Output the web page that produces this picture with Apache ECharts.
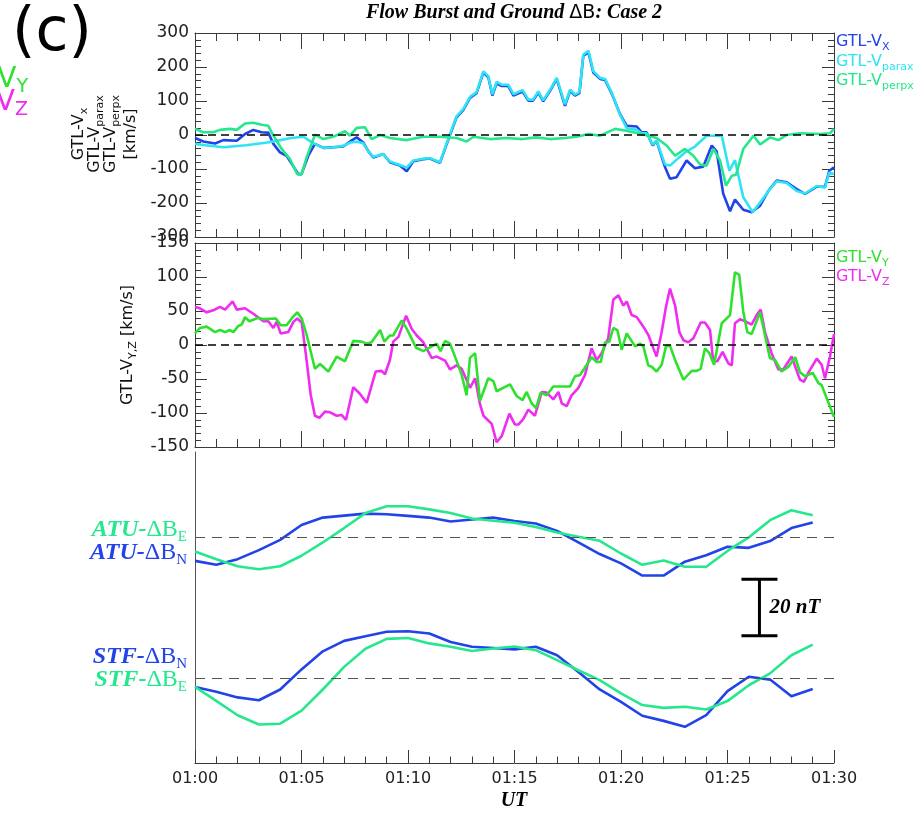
<!DOCTYPE html>
<html lang="en">
<head>
<meta charset="utf-8">
<style>
  html, body { margin: 0; height: 100%; background: #fff; }
  #container { width: 920px; height: 816px; }
</style>
</head>
<body>
<div id="container"></div>
<script src="https://cdn.jsdelivr.net/npm/echarts@6/dist/echarts.min.js"></script>
<script>
// ---- data: [minutes after 01:00, value] ----
var vxData = [[0,-9],[0.39,-19],[0.94,-25],[1.33,-15],[1.96,-17],[2.35,3],[2.74,15],[3.13,8],[3.44,7],[3.68,-26],[3.99,-51],[4.3,-61],[4.85,-115],[5.0,-115],[5.32,-61],[5.63,-26],[6.03,-38],[6.49,-36],[6.96,-34],[7.28,-19],[7.59,-7],[7.9,-22],[8.14,-48],[8.37,-66],[8.61,-61],[8.84,-56],[9.15,-80],[9.62,-90],[9.94,-107],[10.25,-77],[10.72,-71],[11.03,-69],[11.5,-82],[11.82,-26],[12.28,52],[12.6,74],[12.91,109],[13.22,123],[13.54,184],[13.77,170],[13.96,116],[14.16,152],[14.4,144],[14.71,144],[14.95,116],[15.38,128],[15.65,101],[15.87,101],[16.12,125],[16.35,99],[16.67,130],[16.98,165],[17.37,86],[17.61,130],[17.84,116],[18.05,123],[18.23,233],[18.47,243],[18.7,184],[19.02,165],[19.25,162],[19.57,121],[19.95,62],[20.27,27],[20.74,25],[20.97,8],[21.2,8],[21.49,-31],[21.67,-17],[22.07,-95],[22.3,-129],[22.61,-124],[23.08,-75],[23.47,-98],[23.86,-93],[24.26,-31],[24.49,-48],[24.8,-173],[25.12,-224],[25.35,-190],[25.74,-220],[26.13,-227],[26.53,-208],[26.92,-164],[27.31,-134],[27.78,-139],[28.25,-159],[28.64,-173],[29.19,-152],[29.58,-152],[29.78,-105],[30,-95]];
var vparaData = [[0,-26],[0.5,-30],[1.33,-36],[2.4,-30],[3.4,-22],[4.0,-15],[4.5,-9],[5.1,-5],[5.4,-18],[5.63,-26],[6.03,-38],[6.49,-36],[6.96,-32],[7.3,-22],[7.6,-20],[7.9,-24],[8.14,-48],[8.37,-64],[8.61,-60],[8.84,-56],[9.15,-78],[9.62,-88],[9.94,-96],[10.25,-75],[10.72,-70],[11.03,-68],[11.5,-80],[11.82,-24],[12.28,55],[12.6,77],[12.91,112],[13.22,126],[13.54,187],[13.77,173],[13.96,120],[14.16,156],[14.4,148],[14.71,148],[14.95,120],[15.38,132],[15.65,104],[15.87,104],[16.12,128],[16.35,102],[16.67,133],[16.98,168],[17.37,90],[17.61,133],[17.84,119],[18.05,126],[18.23,236],[18.47,248],[18.7,188],[19.02,168],[19.25,165],[19.57,124],[19.95,60],[20.27,20],[20.74,15],[20.97,5],[21.2,5],[21.49,-28],[21.67,-17],[22.07,-87],[22.3,-90],[22.69,-68],[23.08,-48],[23.47,-34],[24.02,-2],[24.73,-2],[25.09,-105],[25.35,-74],[25.74,-183],[26.18,-227],[26.6,-193],[26.99,-159],[27.31,-136],[27.78,-141],[28.25,-165],[28.64,-172],[29.19,-150],[29.58,-155],[29.78,-110],[30,-115]];
var vperpData = [[0,18],[0.39,8],[0.86,8],[1.17,15],[1.64,18],[1.96,15],[2.35,34],[2.74,36],[3.13,30],[3.44,27],[3.68,-2],[4.07,-41],[4.46,-71],[4.8,-115],[5.01,-115],[5.24,-66],[5.63,1],[6.03,-12],[6.49,-5],[7.04,11],[7.28,-2],[7.59,21],[7.98,23],[8.29,-12],[8.69,0],[9.15,-9],[9.94,-15],[10.72,-5],[11.5,-5],[12.28,-9],[12.75,-19],[13.07,-5],[13.85,-12],[14.63,-9],[15.38,-12],[16.0,-7],[16.67,-12],[17.37,-9],[17.92,-5],[18.47,3],[19.02,-2],[19.72,18],[20.19,13],[20.74,6],[21.28,-2],[21.67,-9],[22.14,-31],[22.54,-61],[23.0,-41],[23.4,-61],[23.71,-87],[24.02,-90],[24.34,-41],[24.65,-75],[24.93,-149],[25.2,-120],[25.4,-117],[25.74,-41],[26.22,-2],[26.53,-28],[27.0,-7],[27.39,-15],[27.78,0],[28.4,5],[29.34,3],[29.81,5],[30,18]];

var vzData = [[0,56],[0.23,54],[0.55,48],[0.86,51],[1.17,56],[1.41,52],[1.77,64],[1.96,52],[2.35,54],[2.74,46],[3.21,35],[3.44,35],[3.68,25],[3.83,34],[4.02,17],[4.38,19],[4.62,34],[4.8,39],[5.01,33],[5.21,-15],[5.43,-73],[5.63,-104],[5.84,-107],[6.1,-98],[6.34,-99],[6.65,-104],[6.89,-103],[7.09,-110],[7.43,-62],[7.75,-72],[8.06,-85],[8.48,-39],[8.76,-38],[8.92,-43],[9.15,-22],[9.31,5],[9.55,12],[9.91,43],[10.17,24],[10.41,14],[10.72,4],[11.11,-19],[11.35,-17],[11.74,-23],[11.97,-36],[12.28,-30],[12.52,-35],[12.91,-63],[13.15,-49],[13.38,-87],[13.54,-104],[13.93,-116],[14.16,-143],[14.4,-134],[14.76,-101],[15.02,-117],[15.18,-117],[15.41,-109],[15.65,-95],[15.96,-104],[16.28,-69],[16.51,-70],[16.82,-80],[17.06,-69],[17.22,-86],[17.45,-90],[17.68,-74],[18.0,-63],[18.31,-44],[18.62,-5],[18.86,-22],[19.09,-12],[19.4,10],[19.64,67],[19.88,73],[20.11,58],[20.27,64],[20.5,44],[20.74,41],[21.05,27],[21.28,15],[21.52,-5],[21.67,-17],[21.91,19],[22.11,56],[22.3,83],[22.54,58],[22.74,19],[22.93,7],[23.16,4],[23.4,10],[23.74,33],[23.94,33],[24.18,22],[24.33,-24],[24.52,-24],[24.77,-10],[25.04,-27],[25.2,-30],[25.35,32],[25.59,38],[25.82,35],[26.13,30],[26.37,44],[26.56,52],[26.76,19],[27.07,-12],[27.39,-36],[27.62,-36],[28.01,-17],[28.4,-51],[28.59,-54],[28.79,-41],[29.19,-20],[29.42,-29],[29.58,-49],[29.81,-17],[30,16]];
var vyData = [[0,17],[0.23,25],[0.55,27],[0.94,19],[1.17,22],[1.41,19],[1.64,22],[1.8,19],[2.03,28],[2.19,30],[2.35,41],[2.55,35],[2.97,40],[3.21,38],[3.8,39],[4.02,29],[4.3,29],[4.54,39],[4.8,48],[5.01,39],[5.24,15],[5.63,-35],[5.87,-28],[6.26,-39],[6.65,-17],[7.04,-24],[7.43,6],[7.82,5],[8.06,2],[8.29,4],[8.69,22],[8.89,5],[9.15,14],[9.31,14],[9.7,36],[9.94,24],[10.38,-4],[10.72,-9],[11.35,2],[11.53,-9],[11.74,6],[11.97,2],[12.28,-23],[12.52,-44],[12.75,-74],[12.91,-19],[13.15,-12],[13.38,-82],[13.77,-49],[14.01,-53],[14.16,-68],[14.79,-58],[15.1,-75],[15.38,-81],[15.57,-69],[15.81,-86],[16.01,-93],[16.23,-70],[16.51,-74],[16.82,-61],[17.61,-61],[17.84,-46],[18.08,-44],[18.62,-18],[18.86,-25],[19.05,-25],[19.25,4],[19.45,5],[19.64,25],[19.83,22],[20.03,-7],[20.27,17],[20.66,-2],[20.89,2],[21.05,-2],[21.28,-30],[21.44,-32],[21.67,-39],[21.91,-29],[22.11,-2],[22.3,-1],[22.54,-22],[22.93,-51],[23.32,-38],[23.55,-38],[23.74,-35],[23.94,-5],[24.15,-12],[24.37,-29],[24.73,32],[25.12,44],[25.35,107],[25.55,103],[25.74,49],[25.93,19],[26.13,16],[26.53,48],[26.99,-19],[27.23,-22],[27.54,-39],[27.86,-32],[28.18,-18],[28.4,-40],[28.64,-46],[29.0,-41],[29.27,-56],[29.42,-59],[30,-106]];

// ground magnetometers, 1-min samples, nT relative to each trace's baseline
var groundMinutes = [0,1,2,3,4,5,6,7,8,9,10,11,12,13,14,15,16,17,18,19,20,21,22,23,24,25,26,27,28,29];
var atuN = [-8.5,-9.9,-7.9,-4.7,-1.1,4.2,6.8,7.5,8.2,8.0,7.4,6.8,5.4,6.1,6.8,5.6,4.7,2.1,-2.0,-6.1,-9.4,-13.7,-13.7,-8.8,-6.5,-3.5,-3.9,-1.5,3.1,5.1];
var atuE = [-5.2,-7.9,-10.4,-11.5,-10.4,-6.7,-2.0,3.1,8.4,10.8,10.8,9.7,8.4,6.5,5.7,5.0,3.5,1.5,0,-1.4,-5.9,-9.9,-8.4,-10.6,-10.6,-5.0,-0.2,5.9,9.4,7.6];
var stfN = [-3.1,-4.8,-6.8,-7.8,-4.0,3.1,9.5,13.2,14.8,16.4,16.6,15.8,12.8,11.1,10.7,10.2,11.1,8.1,2.2,-4.0,-8.4,-13.3,-15.1,-17.2,-13.1,-4.6,0.5,-0.5,-6.4,-3.8];
var stfE = [-3.1,-8.0,-13.1,-16.4,-16.1,-11.5,-4.0,4.0,10.4,13.9,14.2,12.3,11.1,9.6,10.5,11.2,9.9,6.4,2.8,-0.7,-5.4,-9.5,-10.5,-10.1,-11.1,-8.1,-2.5,1.7,8.1,11.9];

var BLUE = '#2143e8', CYAN = '#2de4f4', SPRING = '#25e88e', LIME = '#2fe02f', MAGENTA = '#f02cf0';
var AX = '#3a3a3a';
var SANS = 'DejaVu Sans', SERIF = 'Liberation Serif';
var ATU_BASE = 80, STF_BASE = 30;   // where each station's trace sits in the bottom panel (nT)
var SCALE_T = 26.5, SCALE_LO = 45, SCALE_NT = 20;

var chart = echarts.init(document.getElementById('container'), null, {renderer: 'canvas'});

function timeLabel(v) { return '01:' + (v < 10 ? '0' : '') + v; }

function xAx(grid, pos, labels, tickLen) {
  return {
    type: 'value', gridIndex: grid, position: pos, min: 0, max: 30, interval: 5,
    axisLine: {show: true, onZero: false, lineStyle: {color: AX, width: 1}},
    axisTick: {show: true, inside: true, length: tickLen, lineStyle: {color: AX}},
    minorTick: {show: true, splitNumber: 5, length: tickLen / 2, lineStyle: {color: AX}},
    axisLabel: {show: labels, formatter: timeLabel, fontFamily: SANS, fontSize: 16, color: '#222', margin: 8},
    splitLine: {show: false}
  };
}
function yAx(grid, pos, min, max, step, labels) {
  return {
    type: 'value', gridIndex: grid, position: pos, min: min, max: max, interval: step,
    axisLine: {show: true, onZero: false, lineStyle: {color: AX, width: 1}},
    axisTick: {show: true, inside: true, length: 12, lineStyle: {color: AX}},
    minorTick: {show: true, splitNumber: 5, length: 6, lineStyle: {color: AX}},
    axisLabel: {show: labels, fontFamily: SANS, fontSize: 17, color: '#222', margin: 6},
    splitLine: {show: false}
  };
}
function line(data, color, xi, yi, extra) {
  var s = {
    type: 'line', xAxisIndex: xi, yAxisIndex: yi, data: data,
    symbol: 'none', showSymbol: false, silent: true,
    lineStyle: {color: color, width: 2.6}, itemStyle: {color: color}
  };
  if (extra) s.markLine = extra;
  return s;
}
function dashed(values, color, width, dash) {
  return {
    silent: true, symbol: ['none', 'none'], label: {show: false},
    lineStyle: {color: color, width: width, type: dash},
    data: values.map(function (v) { return {yAxis: v}; })
  };
}
function shift(vals, base) {
  return groundMinutes.map(function (m, i) { return [m, vals[i] + base]; });
}

chart.setOption({
  animation: false,
  grid: [
    {left: 195, right: 86, top: 33, height: 204, outerBoundsMode: 'none'},
    {left: 195, right: 86, top: 243, height: 204, outerBoundsMode: 'none'},
    {left: 195, right: 86, top: 452, height: 311, outerBoundsMode: 'none'}
  ],
  xAxis: [
    xAx(0, 'bottom', false, 16), xAx(0, 'top', false, 16),
    xAx(1, 'bottom', false, 16), xAx(1, 'top', false, 16),
    xAx(2, 'bottom', true, 13)
  ],
  yAxis: [
    yAx(0, 'left', -300, 300, 100, true), yAx(0, 'right', -300, 300, 100, false),
    yAx(1, 'left', -150, 150, 50, true), yAx(1, 'right', -150, 150, 50, false),
    {type: 'value', gridIndex: 2, position: 'left', min: 0, max: 110,
     axisLine: {show: true, lineStyle: {color: '#555'}}, axisTick: {show: false},
     axisLabel: {show: false}, splitLine: {show: false}}
  ],
  series: [
    line(vxData, BLUE, 0, 0, dashed([0], '#000', 1.5, [8, 5])),
    line(vparaData, CYAN, 0, 0),
    line(vperpData, SPRING, 0, 0),
    line(vzData, MAGENTA, 2, 2, dashed([0], '#000', 1.5, [8, 5])),
    line(vyData, LIME, 2, 2),
    line(shift(atuN, ATU_BASE), BLUE, 4, 4, dashed([ATU_BASE, STF_BASE], '#555', 1, [10, 7])),
    line(shift(atuE, ATU_BASE), SPRING, 4, 4),
    line(shift(stfN, STF_BASE), BLUE, 4, 4),
    line(shift(stfE, STF_BASE), SPRING, 4, 4)
  ]
});

// ---- annotations ----
function sansSub(color, size, subSize) {
  return {
    m: {fontFamily: SANS, fontSize: size, fill: color, lineHeight: size + 6},
    s: {fontFamily: SANS, fontSize: subSize, fill: color, verticalAlign: 'bottom', lineHeight: subSize + 1}
  };
}
function serifLabel(color) {
  return {
    a: {fontFamily: SERIF, fontSize: 24, fontWeight: 'bold', fontStyle: 'italic', fill: color, lineHeight: 30},
    d: {fontFamily: SERIF, fontSize: 24, fill: color, lineHeight: 30},
    s: {fontFamily: SERIF, fontSize: 15, fill: color, verticalAlign: 'bottom', lineHeight: 15}
  };
}
function txt(x, y, text, rich, align, rot) {
  return {type: 'text', x: x, y: y, rotation: rot || 0, silent: true,
    style: {text: text, rich: rich, align: align || 'left', verticalAlign: 'middle'}};
}

var p0 = chart.convertToPixel({xAxisIndex: 4, yAxisIndex: 4}, [SCALE_T, SCALE_LO]);
var p1 = chart.convertToPixel({xAxisIndex: 4, yAxisIndex: 4}, [SCALE_T, SCALE_LO + SCALE_NT]);
var R = Math.PI / 2;

chart.setOption({
  graphic: [
    {type: 'text', x: 12, y: 34, silent: true,
     style: {text: '(c)', fontFamily: SANS, fontSize: 60, fill: '#000', verticalAlign: 'middle'}},
    txt(514, 13, '{t|Flow Burst and Ground }{d|ΔB}{t|: Case 2}', {
      t: {fontFamily: SERIF, fontSize: 20, fontWeight: 'bold', fontStyle: 'italic', fill: '#000'},
      d: {fontFamily: SANS, fontSize: 19, fill: '#000'}
    }, 'center'),
    // clipped leftovers at top-left
    txt(28, 80, '{m|GTL-V}{s|Y}', sansSub(LIME, 28, 19), 'right'),
    txt(28, 103, '{m|GTL-V}{s|Z}', sansSub(MAGENTA, 28, 19), 'right'),
    // y-axis titles
    txt(79, 134, '{m|GTL-V}{s|x}', sansSub('#111', 16, 11), 'center', R),
    txt(95, 134, '{m|GTL-V}{s|parax}', sansSub('#111', 16, 11), 'center', R),
    txt(111, 134, '{m|GTL-V}{s|perpx}', sansSub('#111', 16, 11), 'center', R),
    txt(131, 134, '{m|[km/s]}', sansSub('#111', 16, 11), 'center', R),
    txt(128, 345, '{m|GTL-V}{s|Y,Z}{m| [km/s]}', sansSub('#111', 16, 11), 'center', R),
    // right-hand legends
    txt(836, 42, '{m|GTL-V}{s|X}', sansSub(BLUE, 16, 11)),
    txt(836, 62, '{m|GTL-V}{s|parax}', sansSub(CYAN, 16, 11)),
    txt(836, 81, '{m|GTL-V}{s|perpx}', sansSub(SPRING, 16, 11)),
    txt(836, 258, '{m|GTL-V}{s|Y}', sansSub(LIME, 16, 11)),
    txt(836, 277, '{m|GTL-V}{s|Z}', sansSub(MAGENTA, 16, 11)),
    // station labels
    txt(187, 530, '{a|ATU-}{d|ΔB}{s|E}', serifLabel(SPRING), 'right'),
    txt(187, 553, '{a|ATU-}{d|ΔB}{s|N}', serifLabel(BLUE), 'right'),
    txt(187, 657, '{a|STF-}{d|ΔB}{s|N}', serifLabel(BLUE), 'right'),
    txt(187, 680, '{a|STF-}{d|ΔB}{s|E}', serifLabel(SPRING), 'right'),
    // 20 nT scale bar
    {type: 'line', silent: true, shape: {x1: p0[0], y1: p0[1], x2: p1[0], y2: p1[1]}, style: {stroke: '#000', lineWidth: 3}},
    {type: 'line', silent: true, shape: {x1: p0[0] - 18, y1: p0[1], x2: p0[0] + 18, y2: p0[1]}, style: {stroke: '#000', lineWidth: 3}},
    {type: 'line', silent: true, shape: {x1: p1[0] - 18, y1: p1[1], x2: p1[0] + 18, y2: p1[1]}, style: {stroke: '#000', lineWidth: 3}},
    {type: 'text', x: p0[0] + 10, y: (p0[1] + p1[1]) / 2, silent: true,
     style: {text: '20 nT', fontFamily: SERIF, fontSize: 21, fontWeight: 'bold', fontStyle: 'italic', fill: '#000', verticalAlign: 'middle'}},
    {type: 'text', x: 514, y: 801, silent: true,
     style: {text: 'UT', fontFamily: SERIF, fontSize: 20, fontWeight: 'bold', fontStyle: 'italic', fill: '#000', align: 'center', verticalAlign: 'middle'}}
  ]
});

window.addEventListener('resize', chart.resize);
</script>
</body>
</html>
